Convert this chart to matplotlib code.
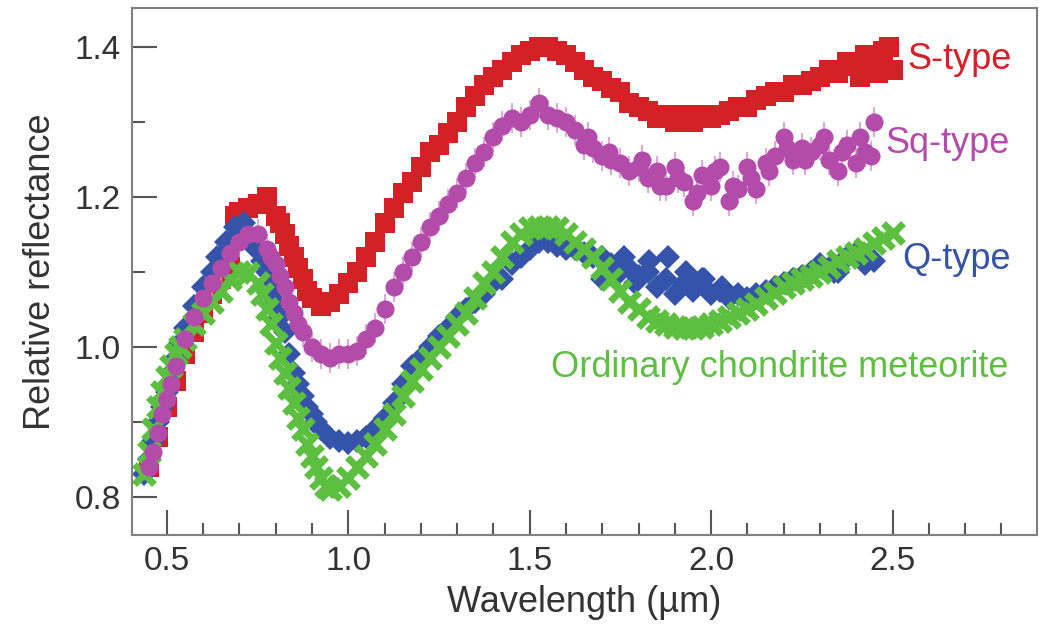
import numpy as np
import matplotlib.pyplot as plt
from matplotlib.ticker import MultipleLocator

plt.rcParams['font.family'] = ['Liberation Sans', 'DejaVu Sans']

# wavelength grid (um), 0.45 ... 2.50 in 0.025 steps
wl = [0.450, 0.475, 0.500, 0.525, 0.550, 0.575, 0.600, 0.625, 0.650, 0.675,
      0.700, 0.725, 0.750, 0.775, 0.800, 0.825, 0.850, 0.875, 0.900, 0.925,
      0.950, 0.975, 1.000, 1.025, 1.050, 1.075, 1.100, 1.125, 1.150, 1.175,
      1.200, 1.225, 1.250, 1.275, 1.300, 1.325, 1.350, 1.375, 1.400, 1.425,
      1.450, 1.475, 1.500, 1.525, 1.550, 1.575, 1.600, 1.625, 1.650, 1.675,
      1.700, 1.725, 1.750, 1.775, 1.800, 1.825, 1.850, 1.875, 1.900, 1.925,
      1.950, 1.975, 2.000, 2.025, 2.050, 2.075, 2.100, 2.125, 2.150, 2.175,
      2.200, 2.225, 2.250, 2.275, 2.300, 2.325, 2.350, 2.375, 2.400, 2.425,
      2.450, 2.475, 2.500]

s_type = [0.84, 0.88, 0.92, 0.955, 0.99, 1.02, 1.045, 1.07, 1.09, 1.11,
          1.18, 1.185, 1.19, 1.20, 1.175, 1.15, 1.12, 1.09, 1.065, 1.055,
          1.06, 1.07, 1.085, 1.10, 1.12, 1.14, 1.165, 1.185, 1.205, 1.22,
          1.24, 1.26, 1.27, 1.285, 1.30, 1.32, 1.335, 1.35, 1.36, 1.37,
          1.38, 1.39, 1.395, 1.40, 1.40, 1.395, 1.39, 1.38, 1.37, 1.36,
          1.355, 1.345, 1.34, 1.325, 1.32, 1.315, 1.305, 1.31, 1.30, 1.31,
          1.30, 1.31, 1.305, 1.31, 1.315, 1.32, 1.32, 1.33, 1.335, 1.34,
          1.34, 1.35, 1.35, 1.355, 1.36, 1.37, 1.365, 1.38, 1.375, 1.39,
          1.38, 1.395, 1.37]

sq_type = [0.84, 0.885, 0.93, 0.975, 1.01, 1.04, 1.065, 1.085, 1.105, 1.125,
           1.14, 1.15, 1.15, 1.13, 1.11, 1.08, 1.045, 1.02, 1.00, 0.99,
           0.985, 0.99, 0.99, 0.995, 1.01, 1.025, 1.05, 1.08, 1.10, 1.12,
           1.14, 1.16, 1.175, 1.19, 1.205, 1.225, 1.245, 1.26, 1.28, 1.295,
           1.305, 1.30, 1.31, 1.325, 1.31, 1.305, 1.30, 1.29, 1.27, 1.265,
           1.255, 1.25, 1.245, 1.235, 1.24, 1.225, 1.235, 1.215, 1.24, 1.22,
           1.195, 1.23, 1.215, 1.24, 1.195, 1.21, 1.24, 1.21, 1.245, 1.255,
           1.28, 1.25, 1.265, 1.26, 1.27, 1.25, 1.235, 1.27, 1.245, 1.26,
           1.30, np.nan, np.nan]
sq_err = 0.02

q_type = [0.85, 0.90, 0.94, 0.985, 1.025, 1.055, 1.08, 1.10, 1.12, 1.14,
          1.155, 1.15, 1.13, 1.10, 1.06, 1.02, 0.965, 0.935, 0.91, 0.89,
          0.878, 0.874, 0.872, 0.875, 0.88, 0.89, 0.905, 0.925, 0.95, 0.975,
          0.985, 1.00, 1.015, 1.025, 1.04, 1.05, 1.06, 1.07, 1.085, 1.09,
          1.11, 1.12, 1.13, 1.14, 1.14, 1.135, 1.13, 1.13, 1.125, 1.12,
          1.12, 1.11, 1.10, 1.105, 1.095, 1.10, 1.08, 1.09, 1.07, 1.085,
          1.075, 1.09, 1.07, 1.075, 1.065, 1.07, 1.065, 1.07, 1.075, 1.08,
          1.085, 1.09, 1.095, 1.10, 1.11, 1.105, 1.10, 1.12, 1.125, 1.11,
          1.115, np.nan, np.nan]

chondrite = [0.86, 0.92, 0.96, 0.99, 1.01, 1.03, 1.045, 1.06, 1.075, 1.09,
             1.10, 1.098, 1.085, 1.05, 1.005, 0.965, 0.925, 0.89, 0.855, 0.825,
             0.81, 0.815, 0.825, 0.84, 0.855, 0.87, 0.89, 0.91, 0.935, 0.955,
             0.97, 0.985, 1.00, 1.015, 1.03, 1.045, 1.065, 1.085, 1.10, 1.12,
             1.14, 1.15, 1.158, 1.16, 1.16, 1.158, 1.15, 1.14, 1.13, 1.12,
             1.105, 1.09, 1.075, 1.06, 1.05, 1.04, 1.035, 1.03, 1.027, 1.025,
             1.025, 1.027, 1.03, 1.035, 1.04, 1.045, 1.05, 1.057, 1.065, 1.072,
             1.08, 1.085, 1.09, 1.095, 1.10, 1.107, 1.115, 1.12, 1.125, 1.13,
             1.138, 1.145, 1.152]

# extra samples read on the steep and scattered parts of the spectra
wl_s_fill = [0.6875, 0.8125, 0.8375, 0.8625, 0.8875, 2.41, 2.46, 2.49]
s_fill = [1.175, 1.165, 1.135, 1.105, 1.075, 1.36, 1.365, 1.40]

wl_sq_fill = [0.4625, 0.4875, 0.5125, 0.7875, 0.8125, 0.8375, 0.8625,
              1.66, 1.72, 1.81, 1.86, 1.91, 1.96, 2.01, 2.06, 2.11, 2.16,
              2.21, 2.26, 2.31, 2.36, 2.41, 2.44]
sq_fill = [0.86, 0.91, 0.95, 1.12, 1.095, 1.06, 1.03,
           1.28, 1.26, 1.25, 1.215, 1.225, 1.205, 1.235, 1.215, 1.225, 1.235,
           1.265, 1.25, 1.28, 1.26, 1.28, 1.255]

wl_q_fill = [0.4375, 0.4625, 0.4875, 0.5125, 0.5375, 0.6375, 0.6625, 0.6875,
             0.7125, 0.7375, 0.7625, 0.7875, 0.8125, 0.8375, 0.8625, 0.8875,
             0.9125, 1.70, 1.76, 1.79, 1.83, 1.88, 1.93, 1.98, 2.03, 2.34]
q_fill = [0.83, 0.875, 0.92, 0.965, 1.005, 1.12, 1.14, 1.16,
          1.165, 1.135, 1.115, 1.08, 1.04, 0.99, 0.95, 0.92,
          0.90, 1.09, 1.12, 1.085, 1.115, 1.12, 1.10, 1.09, 1.08, 1.10]

wl_ch_fill = [0.4375, 0.4625, 0.4875, 0.5125, 0.5375, 0.7625, 0.7875, 0.8125,
              0.8375, 0.8625, 0.8875, 0.9125, 0.9375]
ch_fill = [0.83, 0.89, 0.94, 0.975, 1.00, 1.07, 1.03, 0.985,
           0.945, 0.905, 0.87, 0.84, 0.815]

red = '#d42027'
magenta = '#b24ba9'
blue = '#3553a8'
green = '#5cbf40'

fig, ax = plt.subplots(figsize=(10.39, 6.25), dpi=100)
fig.subplots_adjust(left=0.127, right=0.998, bottom=0.144, top=0.987)

ax.plot(wl + wl_s_fill, s_type + s_fill, ls='', marker='s', ms=14, color=red, mew=0)
ax.errorbar(wl + wl_sq_fill, sq_type + sq_fill, yerr=sq_err, ls='', marker='o',
            ms=13, color=magenta, mew=0, ecolor='#d59ad0', elinewidth=1.2)
ax.plot(wl + wl_q_fill, q_type + q_fill, ls='', marker='D', ms=12, color=blue, mew=0)
ax.plot(wl + wl_ch_fill, chondrite + ch_fill, ls='', marker='x', ms=15, color=green, mew=5)

ax.text(2.54, 1.383, 'S-type', color=red, fontsize=26, va='center')
ax.text(2.48, 1.272, 'Sq-type', color=magenta, fontsize=26, va='center')
ax.text(2.527, 1.116, 'Q-type', color=blue, fontsize=26, va='center')
ax.text(1.56, 0.972, 'Ordinary chondrite meteorite', color=green, fontsize=26, va='center')

ax.set_xlim(0.404, 2.898)
ax.set_ylim(0.749, 1.452)
ax.xaxis.set_major_locator(MultipleLocator(0.5))
ax.xaxis.set_minor_locator(MultipleLocator(0.1))
ax.yaxis.set_major_locator(MultipleLocator(0.2))
ax.yaxis.set_minor_locator(MultipleLocator(0.1))
ax.xaxis.set_major_formatter(lambda v, p: f'{v:.1f}')
ax.yaxis.set_major_formatter(lambda v, p: f'{v:.1f}')

ax.tick_params(which='both', direction='in', color='#555555', width=1.5,
               labelsize=24, labelcolor='#333333', pad=8)
ax.tick_params(which='major', length=18)
ax.tick_params(which='minor', length=9)
for sp in ax.spines.values():
    sp.set_color('#808080')
    sp.set_linewidth(1.5)

ax.set_xlabel('Wavelength (µm)', fontsize=26, color='#333333', labelpad=6)
ax.set_ylabel('Relative reflectance', fontsize=26, color='#333333', labelpad=12)

fig.savefig('out.png', dpi=100)
